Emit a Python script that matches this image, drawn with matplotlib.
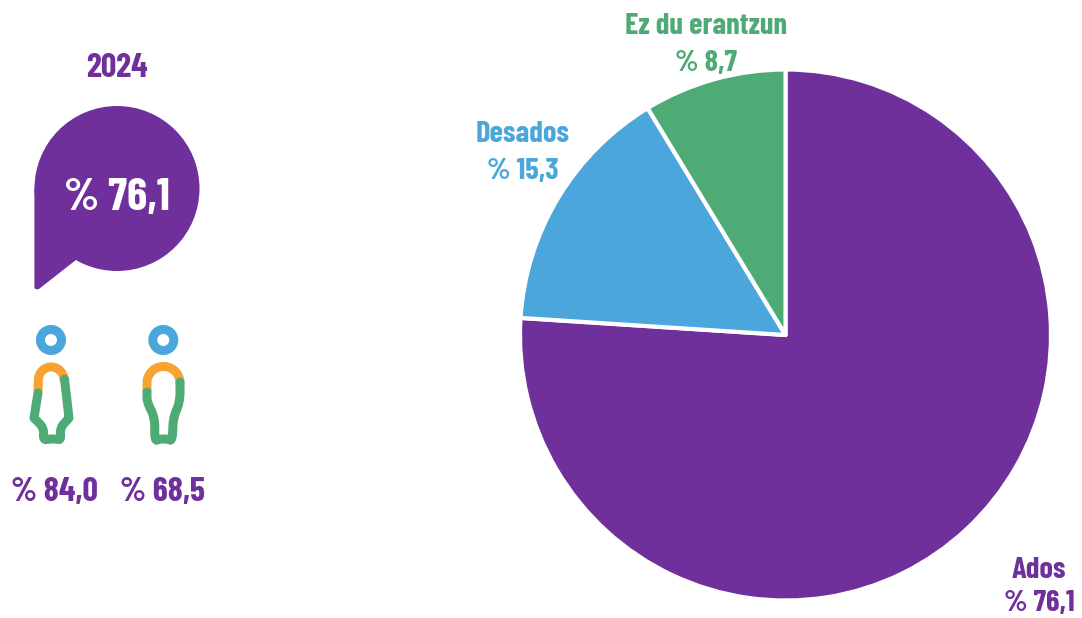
import matplotlib
matplotlib.use("Agg")
import matplotlib.pyplot as plt
from matplotlib.patches import Circle, Polygon
import numpy as np

categories = ["Ados", "Desados", "Ez du erantzun"]
values = [76.1, 15.3, 8.7]
value_labels = ["% 76,1", "% 15,3", "% 8,7"]
colors = ["#70309C", "#4BA6DC", "#4FAB75"]
year = "2024"
total_label = "% 76,1"
gender_labels = ["% 84,0", "% 68,5"]
ORANGE = "#F7A231"

W, H = 1082, 618
plt.rcParams["font.family"] = ["Barlow Condensed", "Roboto", "DejaVu Sans"]

fig = plt.figure(figsize=(W / 100, H / 100), dpi=100)
bg = fig.add_axes([0, 0, 1, 1])
bg.set_xlim(0, W)
bg.set_ylim(H, 0)
bg.axis("off")

# pie
cx, cy, r = 785.5, 335, 265.5
pie_ax = fig.add_axes([(cx - r) / W, 1 - (cy + r) / H, 2 * r / W, 2 * r / H])
pie_ax.pie(values, colors=colors, startangle=90, counterclock=False, radius=1,
           wedgeprops=dict(edgecolor="white", linewidth=3.0, joinstyle="round"))
pie_ax.set_xlim(-1, 1)
pie_ax.set_ylim(-1, 1)

PURPLE = colors[0]
def label(x, y, s, c, size=22):
    bg.text(x, y, s, color=c, fontsize=size, fontweight="bold", ha="center", va="center")

label(1039, 570, categories[0], colors[0])
label(1039, 604, value_labels[0], colors[0])
label(523, 134, categories[1], colors[1])
label(523, 172, value_labels[1], colors[1])
label(706, 26, categories[2], colors[2])
label(706, 63, value_labels[2], colors[2])

# speech bubble
bg.add_patch(Circle((117, 188.5), 82.5, fc=PURPLE, ec="none"))
bg.add_patch(Polygon([(35, 188), (117, 188), (90, 250), (75, 260), (38, 289), (35, 288)],
                     closed=True, fc=PURPLE, ec=PURPLE, lw=0.8, joinstyle="round"))
label(116.5, 68, year, PURPLE, 24.5)
label(116.5, 198, total_label, "white", 33)

# pictograms
LW = 9 * 0.72
def stroke(xs, ys, c):
    bg.plot(xs, ys, color=c, lw=LW, solid_capstyle="round", solid_joinstyle="round")

def smooth(pts, n=3):
    p = np.array(pts, float)
    for _ in range(n):
        q = [p[0]]
        for a, b in zip(p[:-1], p[1:]):
            q += [0.75 * a + 0.25 * b, 0.25 * a + 0.75 * b]
        q.append(p[-1])
        p = np.array(q)
    return p[:, 0], p[:, 1]

for hx in (51, 163.3):
    bg.add_patch(Circle((hx, 340), 10.5, fc="none", ec=colors[1], lw=9 * 0.72))

t = np.linspace(np.pi, 0, 40)

# left figure
stroke(np.r_[38, 51.2 + 12.8 * np.cos(t)], np.r_[391, 380 - 13 * np.sin(t)], ORANGE)
stroke(*smooth([(38, 393), (34, 418), (34, 418), (44, 428), (43, 440), (50, 439), (56, 439), (61, 440), (60, 428), (69, 418), (69, 418), (64.5, 379)], 2), colors[2])

# right figure
stroke(np.r_[147, 163.5 + 16.5 * np.cos(t), 180], np.r_[391, 383 - 16.5 * np.sin(t), 383], ORANGE)
stroke(*smooth([(147, 392), (147, 402), (155, 418), (154.5, 441), (160, 439), (167, 439), (172.5, 441), (173, 418), (180, 402), (180, 382)], 2), colors[2])

label(54, 492, gender_labels[0], PURPLE, 24.5)
label(162, 492, gender_labels[1], PURPLE, 24.5)

fig.savefig("out.png", dpi=100, facecolor="white")
